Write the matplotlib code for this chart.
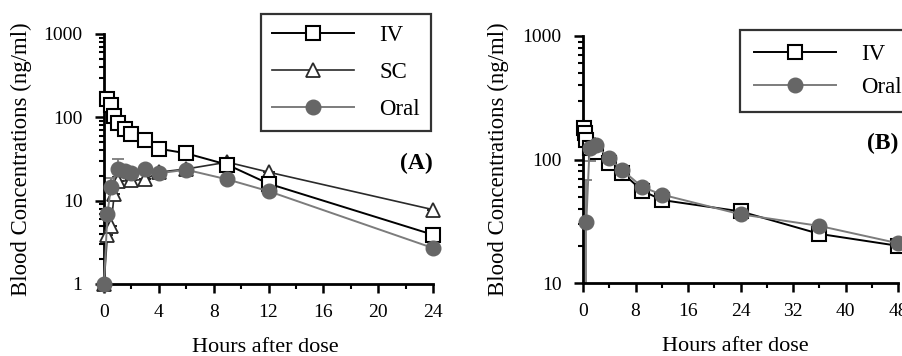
import matplotlib
matplotlib.use("Agg")
import matplotlib.pyplot as plt
from matplotlib.transforms import IdentityTransform
import numpy as np

plt.rcParams['font.family'] = ['Liberation Serif', 'DejaVu Serif']

# ---------------- Panel A data ----------------
a_iv_t = [0.25, 0.5, 0.75, 1, 1.5, 2, 3, 4, 6, 9, 12, 24]
a_iv_c = [165, 140, 103, 85, 72, 63, 53, 42, 37, 27, 16, 3.9]

a_sc_t = [0, 0.25, 0.5, 0.75, 1, 2, 3, 4, 6, 9, 12, 24]
a_sc_c = [1, 3.9, 5.0, 12, 17, 17.5, 18, 22, 24, 29, 22, 7.8]
a_sc_err = [0, 0, 0, 0, 2, 0, 0, 0, 0, 0, 0, 0]

a_or_t = [0, 0.25, 0.5, 1, 1.5, 2, 3, 4, 6, 9, 12, 24]
a_or_c = [1, 6.9, 14.5, 24, 23, 21.3, 24, 21.3, 23.5, 18, 13, 2.7]
a_or_err = [0, 0, 4, 8, 0, 0, 0, 0, 0, 0, 0, 0]

a_xticks = [0, 4, 8, 12, 16, 20, 24]
a_yticks = [1, 10, 100, 1000]

# ---------------- Panel B data ----------------
b_iv_t = [0.083, 0.25, 0.5, 1, 2, 4, 6, 9, 12, 24, 36, 48]
b_iv_c = [180, 165, 145, 125, 115, 93, 78, 56, 47, 38, 25, 20]
b_iv_err = [20, 0, 0, 0, 0, 0, 0, 0, 0, 0, 0, 0]

b_or_t = [0.5, 1, 2, 4, 6, 9, 12, 24, 36, 48]
b_or_c = [31, 123, 130, 102, 82, 60, 52, 36, 29, 21]
b_or_err = [37, 25, 0, 0, 0, 0, 0, 0, 0, 0]

b_xticks = [0, 8, 16, 24, 32, 40, 48]
b_yticks = [10, 100, 1000]

W, H = 902, 356
fig = plt.figure(figsize=(W / 100, H / 100), dpi=100)

def frac(x0, y0, x1, y1):
    return [x0 / W, 1 - y1 / H, (x1 - x0) / W, (y1 - y0) / H]

axA = fig.add_axes(frac(104, 34, 433, 284))
axB = fig.add_axes(frac(583, 36, 898, 283))

IV_COL, SC_COL, OR_COL = 'black', '#2a2a2a', '#7c7c7c'
iv_kw = dict(color=IV_COL, lw=1.4, marker='s', ms=10, mfc='white', mec='black',
             mew=1.5, clip_on=False, zorder=4)
sc_kw = dict(color=SC_COL, lw=1.2, marker='^', ms=10, mfc='white', mec=SC_COL,
             mew=1.3, clip_on=False, zorder=3)
or_kw = dict(color=OR_COL, lw=1.4, marker='o', ms=10.5, mfc='#666666', mec='#666666',
             mew=1, clip_on=False, zorder=5)

def errs(ax, t, c, up, lo, color, z):
    up = np.asarray(up, dtype=float)
    lo = np.asarray(lo, dtype=float)
    cont = ax.errorbar(t, c, yerr=[lo, up], fmt='none', capsize=4,
                       elinewidth=1.3, ecolor=color, capthick=1.3, zorder=z)
    for art in cont.lines[1]:
        art.set_clip_on(True)
    for art in cont.lines[2]:
        art.set_clip_on(True)

# Panel A
axA.plot(a_iv_t, a_iv_c, label='IV', **iv_kw)
axA.plot(a_sc_t, a_sc_c, label='SC', **sc_kw)
errs(axA, a_sc_t, a_sc_c, a_sc_err, np.zeros(len(a_sc_err)), SC_COL, 2)
axA.plot(a_or_t, a_or_c, label='Oral', **or_kw)
errs(axA, a_or_t, a_or_c, a_or_err, np.zeros(len(a_or_err)), OR_COL, 2)
axA.set_yscale('log')
axA.set_ylim(1, 1000)
axA.set_xlim(0, 24)
axA.set_xticks(a_xticks)
axA.set_xticks(np.arange(0, 25, 2), minor=True)
axA.set_yticks(a_yticks)
axA.set_yticklabels([str(v) for v in a_yticks])

# Panel B
axB.plot(b_iv_t, b_iv_c, label='IV', **iv_kw)
errs(axB, b_iv_t, b_iv_c, b_iv_err, np.zeros(len(b_iv_err)), IV_COL, 2)
axB.plot(b_or_t, b_or_c, label='Oral', **or_kw)
errs(axB, b_or_t, b_or_c, b_or_err, b_or_err, OR_COL, 2)
axB.set_yscale('log')
axB.set_ylim(10, 1000)
axB.set_xlim(0, 48)
axB.set_xticks(b_xticks)
axB.set_xticks(np.arange(0, 49, 4), minor=True)
axB.set_yticks(b_yticks)
axB.set_yticklabels([str(v) for v in b_yticks])

for ax in (axA, axB):
    for s in ('top', 'right'):
        ax.spines[s].set_visible(False)
    for s in ('left', 'bottom'):
        ax.spines[s].set_linewidth(2.0)
    ax.tick_params(which='major', direction='out', length=6.5, width=1.8,
                   labelsize=14)
    ax.tick_params(axis='y', which='major', pad=9)
    ax.tick_params(axis='x', which='major', pad=8)
    ax.tick_params(which='minor', direction='out', length=3.5, width=1.5)
    ax.yaxis.set_minor_formatter(matplotlib.ticker.NullFormatter())
    ax.set_xlabel('Hours after dose', fontsize=16)
    ax.set_ylabel('Blood Concentrations (ng/ml)', fontsize=16.4)
    ax.patch.set_alpha(0)

axA.yaxis.set_label_coords(-0.22, 0.5)
axA.xaxis.set_label_coords(0.489, -0.215)
axB.yaxis.set_label_coords(-0.235, 0.5)
axB.xaxis.set_label_coords(0.483, -0.219)

fig.text(433, H - 163, '(A)', transform=IdentityTransform(), fontsize=17,
         fontweight='bold', ha='right', va='center')
fig.text(867, H - 143, '(B)', transform=IdentityTransform(), fontsize=17,
         fontweight='bold', ha='left', va='center')

hA, lA = axA.get_legend_handles_labels()
legA = fig.legend(hA, lA, loc='upper left', bbox_to_anchor=(261 / W, 1 - 14 / H),
                  frameon=True, fancybox=False, edgecolor='black', fontsize=16.5,
                  handlelength=3.6, handletextpad=1.1, labelspacing=0.71,
                  borderpad=0.47, borderaxespad=0)
legA.get_frame().set_linewidth(1.6)

hB, lB = axB.get_legend_handles_labels()
legB = fig.legend(hB, lB, loc='upper left', bbox_to_anchor=(740 / W, 1 - 30 / H),
                  frameon=True, fancybox=False, edgecolor='black', fontsize=16.5,
                  handlelength=3.6, handletextpad=1.1, labelspacing=0.55,
                  borderpad=0.6, borderaxespad=0)
legB.get_frame().set_linewidth(1.6)

fig.savefig('out.png', dpi=100)
